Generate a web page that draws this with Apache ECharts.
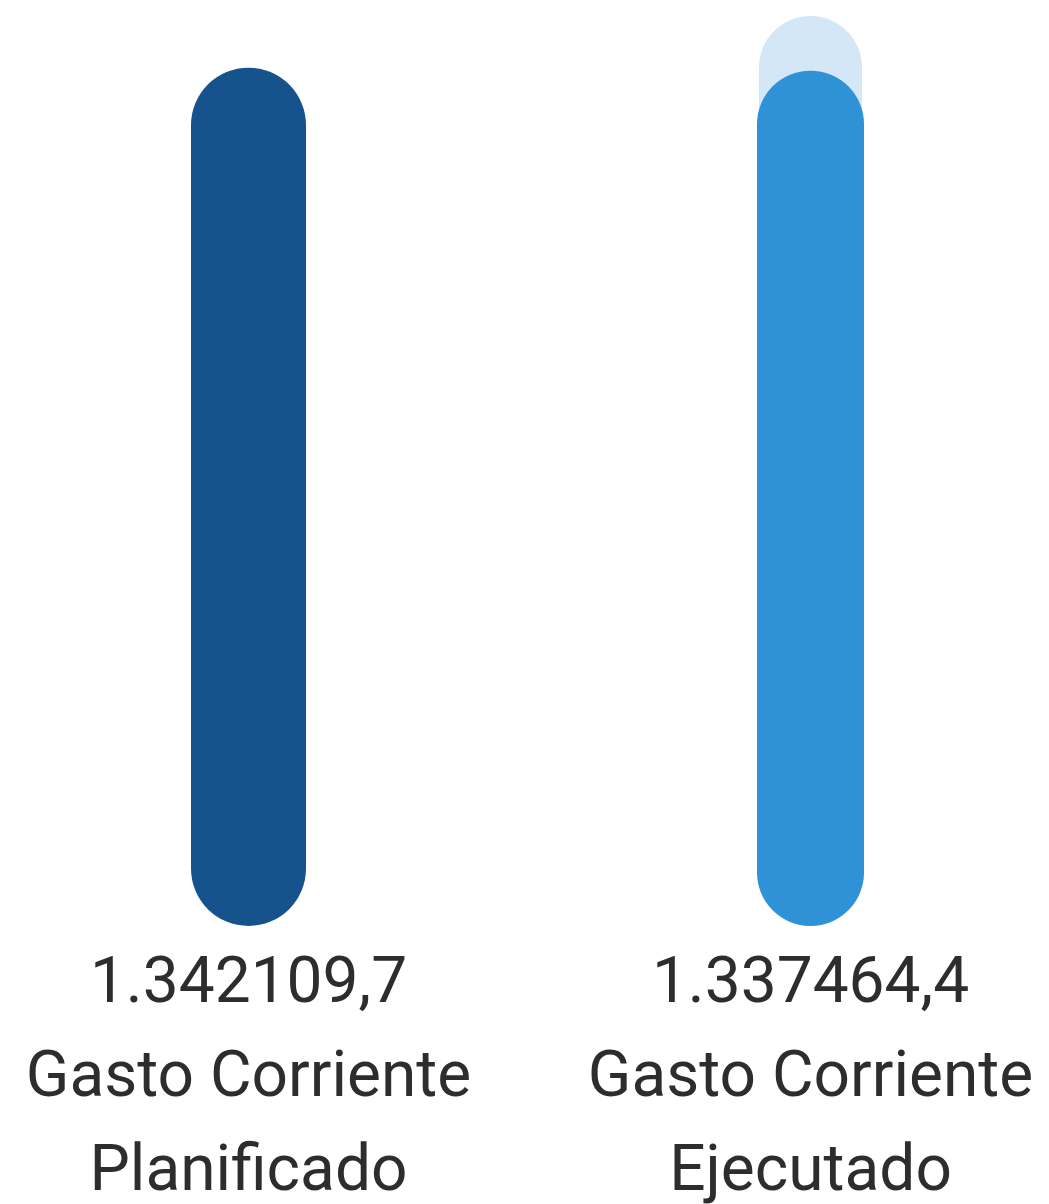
<!DOCTYPE html>
<html>
<head>
<meta charset="utf-8">
<script src="https://cdn.jsdelivr.net/npm/echarts@6/dist/echarts.min.js"></script>
<style>
html,body{margin:0;padding:0;background:#ffffff;}
#chart{width:1049px;height:1204px;}
</style>
</head>
<body>
<div id="chart"></div>
<script>
// ---- data ----
const categories = ["Gasto Corriente\nPlanificado", "Gasto Corriente\nEjecutado"];
const planificado = [1342109.7, null];
const ejecutado = [null, 1337464.4];
const fondo = [null, 1423000];
const labelValues = [1342109.7, 1337464.4];

function fmt(v) {
  const s = v.toFixed(1);
  const [ip, dp] = s.split('.');
  const head = ip.slice(0, ip.length - 6);
  const tail = ip.slice(ip.length - 6);
  return (head ? head + '.' : '') + tail + ',' + dp;
}

const chart = echarts.init(document.getElementById('chart'));
const hiddenAxis = {
  type: 'category', data: categories, show: false, boundaryGap: true
};
chart.setOption({
  backgroundColor: '#ffffff',
  animation: false,
  grid: { left: -32.5, right: -42.5, top: 16, bottom: 278, containLabel: false, outerBoundsMode: 'none' },
  xAxis: [
    {
      type: 'category', data: categories, boundaryGap: true,
      axisLine: { show: false }, axisTick: { show: false },
      axisLabel: {
        margin: 13,
        interval: 0,
        hideOverlap: false,
        color: '#2d2d2d',
        fontFamily: 'Roboto',
        fontSize: 64,
        lineHeight: 94,
        formatter: (val, idx) => fmt(labelValues[idx]) + '\n' + val
      }
    },
    Object.assign({}, hiddenAxis),
    Object.assign({}, hiddenAxis)
  ],
  yAxis: {
    type: 'value', min: 0, max: 1423000, show: false,
    splitLine: { show: false }
  },
  series: [
    {
      name: 'Fondo', type: 'bar', xAxisIndex: 2, data: fondo,
      barWidth: 103, z: 1,
      itemStyle: { color: '#d4e7f7', borderRadius: 51.5 }
    },
    {
      name: 'Planificado', type: 'bar', xAxisIndex: 0, data: planificado,
      barWidth: 115, z: 2,
      itemStyle: { color: '#16528c', borderRadius: 57.5 }
    },
    {
      name: 'Ejecutado', type: 'bar', xAxisIndex: 1, data: ejecutado,
      barWidth: 107, z: 3,
      itemStyle: { color: '#2f91d6', borderRadius: 53.5 }
    }
  ]
});
</script>
</body>
</html>
